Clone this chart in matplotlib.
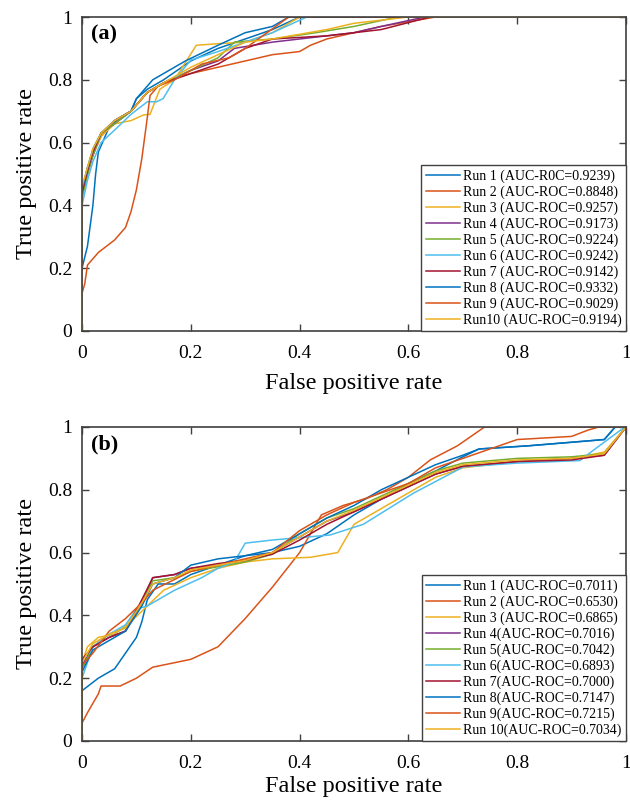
import matplotlib
matplotlib.use('Agg')
import matplotlib.pyplot as plt

plt.rcParams['font.family'] = ['Liberation Serif', 'DejaVu Serif']

# MATLAB default line colours, runs 8-10 repeat runs 1-3
colors = ['#0072BD', '#D95319', '#EDB120', '#7E2F8E', '#77AC30',
          '#4DBEEE', '#A2142F', '#0072BD', '#D95319', '#EDB120']

# ---- panel (a) ROC curves ----
a_labels = ['Run 1 (AUC-R0C=0.9239)', 'Run 2 (AUC-ROC=0.8848)', 'Run 3 (AUC-ROC=0.9257)',
            'Run 4 (AUC-ROC=0.9173)', 'Run 5 (AUC-ROC=0.9224)', 'Run 6 (AUC-ROC=0.9242)',
            'Run 7 (AUC-ROC=0.9142)', 'Run 8 (AUC-ROC=0.9332)', 'Run 9 (AUC-ROC=0.9029)',
            'Run10 (AUC-ROC=0.9194)']
a_fpr = [
    [0, 0, 0.01, 0.02, 0.025, 0.03, 0.05, 0.07, 0.09, 0.1, 0.12, 0.15, 0.2, 0.25, 0.3, 0.35, 0.4, 1],
    [0, 0, 0.01, 0.035, 0.06, 0.09, 0.12, 0.16, 0.2, 0.25, 0.3, 0.35, 0.4, 0.42, 0.45, 0.5, 0.55, 0.65, 1],
    [0, 0, 0.01, 0.02, 0.035, 0.06, 0.09, 0.113, 0.125, 0.143, 0.17, 0.21, 0.25, 0.3, 0.35, 0.4, 1],
    [0, 0, 0.01, 0.02, 0.035, 0.06, 0.09, 0.12, 0.15, 0.2, 0.25, 0.28, 0.35, 0.45, 0.5, 0.55, 0.63, 1],
    [0, 0, 0.01, 0.02, 0.035, 0.06, 0.09, 0.12, 0.15, 0.2, 0.25, 0.28, 0.35, 0.43, 0.5, 0.58, 1],
    [0, 0, 0.01, 0.02, 0.035, 0.06, 0.09, 0.12, 0.137, 0.149, 0.17, 0.2, 0.25, 0.3, 0.35, 0.413, 1],
    [0, 0, 0.01, 0.02, 0.035, 0.06, 0.09, 0.12, 0.15, 0.2, 0.25, 0.3, 0.35, 0.45, 0.5, 0.55, 0.64, 1],
    [0, 0, 0.01, 0.02, 0.035, 0.06, 0.09, 0.1, 0.13, 0.19, 0.25, 0.3, 0.35, 0.38, 1],
    [0, 0, 0.005, 0.01, 0.03, 0.06, 0.08, 0.09, 0.1, 0.11, 0.12, 0.125, 0.14, 0.17, 0.22, 0.27, 0.3, 0.34, 0.38, 1],
    [0, 0, 0.01, 0.02, 0.035, 0.06, 0.09, 0.12, 0.15, 0.2, 0.25, 0.3, 0.35, 0.45, 0.5, 0.6, 1],
]
a_tpr = [
    [0, 0.20, 0.27, 0.40, 0.50, 0.57, 0.65, 0.68, 0.70, 0.74, 0.77, 0.80, 0.86, 0.90, 0.93, 0.96, 1, 1],
    [0, 0.45, 0.52, 0.62, 0.67, 0.70, 0.76, 0.80, 0.82, 0.84, 0.86, 0.88, 0.89, 0.91, 0.93, 0.95, 0.97, 1, 1],
    [0, 0.45, 0.50, 0.56, 0.62, 0.66, 0.67, 0.688, 0.69, 0.77, 0.80, 0.91, 0.915, 0.92, 0.95, 1, 1],
    [0, 0.43, 0.50, 0.56, 0.63, 0.66, 0.70, 0.76, 0.79, 0.83, 0.86, 0.90, 0.92, 0.94, 0.95, 0.97, 1, 1],
    [0, 0.42, 0.50, 0.56, 0.63, 0.66, 0.70, 0.76, 0.79, 0.83, 0.87, 0.92, 0.93, 0.95, 0.97, 1, 1],
    [0, 0.40, 0.48, 0.54, 0.60, 0.64, 0.69, 0.73, 0.73, 0.74, 0.80, 0.863, 0.89, 0.92, 0.95, 1, 1],
    [0, 0.44, 0.51, 0.57, 0.63, 0.67, 0.70, 0.76, 0.79, 0.82, 0.85, 0.90, 0.93, 0.94, 0.95, 0.96, 1, 1],
    [0, 0.45, 0.52, 0.58, 0.63, 0.67, 0.70, 0.74, 0.80, 0.86, 0.91, 0.95, 0.97, 1, 1],
    [0, 0.12, 0.15, 0.21, 0.25, 0.29, 0.33, 0.38, 0.45, 0.55, 0.68, 0.75, 0.78, 0.80, 0.85, 0.87, 0.90, 0.95, 1, 1],
    [0, 0.46, 0.52, 0.58, 0.63, 0.67, 0.70, 0.76, 0.79, 0.84, 0.88, 0.92, 0.93, 0.96, 0.98, 1, 1],
]

# ---- panel (b) ROC curves ----
b_labels = ['Run 1 (AUC-ROC=0.7011)', 'Run 2 (AUC-ROC=0.6530)', 'Run 3 (AUC-ROC=0.6865)',
            'Run 4(AUC-ROC=0.7016)', 'Run 5(AUC-ROC=0.7042)', 'Run 6(AUC-ROC=0.6893)',
            'Run 7(AUC-ROC=0.7000)', 'Run 8(AUC-ROC=0.7147)', 'Run 9(AUC-ROC=0.7215)',
            'Run 10(AUC-ROC=0.7034)']
b_fpr = [
    [0, 0, 0.03, 0.06, 0.08, 0.1, 0.11, 0.12, 0.14, 0.17, 0.2, 0.25, 0.3, 0.35, 0.4, 0.45, 0.5, 0.55, 0.6, 0.65, 0.7, 0.73, 0.82, 0.96, 0.98, 1],
    [0, 0, 0.01, 0.03, 0.035, 0.07, 0.1, 0.13, 0.2, 0.25, 0.3, 0.35, 0.4, 0.44, 0.48, 0.52, 0.56, 0.6, 0.64, 0.69, 0.74, 1],
    [0, 0, 0.01, 0.03, 0.06, 0.09, 0.12, 0.15, 0.2, 0.25, 0.3, 0.35, 0.42, 0.47, 0.5, 0.55, 0.6, 0.65, 0.7, 0.8, 0.9, 0.96, 1],
    [0, 0, 0.02, 0.05, 0.08, 0.11, 0.13, 0.17, 0.2, 0.25, 0.3, 0.35, 0.4, 0.45, 0.5, 0.55, 0.6, 0.65, 0.7, 0.8, 0.9, 0.96, 1],
    [0, 0, 0.02, 0.05, 0.08, 0.11, 0.13, 0.17, 0.2, 0.25, 0.3, 0.35, 0.4, 0.45, 0.5, 0.55, 0.6, 0.65, 0.7, 0.8, 0.9, 0.96, 1],
    [0, 0, 0.02, 0.05, 0.08, 0.1, 0.12, 0.14, 0.17, 0.22, 0.25, 0.28, 0.3, 0.35, 0.456, 0.517, 0.609, 0.701, 0.8, 0.915, 0.94, 0.99, 1],
    [0, 0, 0.02, 0.05, 0.08, 0.11, 0.13, 0.17, 0.2, 0.25, 0.3, 0.35, 0.4, 0.45, 0.5, 0.55, 0.6, 0.65, 0.7, 0.8, 0.9, 0.96, 1],
    [0, 0, 0.02, 0.05, 0.08, 0.11, 0.13, 0.17, 0.2, 0.25, 0.3, 0.35, 0.4, 0.45, 0.5, 0.55, 0.6, 0.65, 0.7, 0.73, 0.82, 0.96, 0.98, 1],
    [0, 0, 0.02, 0.05, 0.08, 0.11, 0.13, 0.2, 0.25, 0.3, 0.35, 0.4, 0.45, 0.5, 0.55, 0.6, 0.65, 0.7, 0.8, 0.9, 0.93, 0.95, 1],
    [0, 0, 0.02, 0.05, 0.08, 0.11, 0.13, 0.17, 0.2, 0.25, 0.3, 0.35, 0.4, 0.45, 0.5, 0.55, 0.6, 0.65, 0.7, 0.8, 0.9, 0.96, 1],
]
b_tpr = [
    [0, 0.16, 0.20, 0.23, 0.28, 0.33, 0.38, 0.45, 0.50, 0.50, 0.53, 0.56, 0.59, 0.60, 0.62, 0.66, 0.72, 0.77, 0.82, 0.86, 0.905, 0.93, 0.94, 0.96, 1, 1],
    [0, 0.057, 0.09, 0.15, 0.175, 0.175, 0.20, 0.235, 0.26, 0.30, 0.39, 0.49, 0.60, 0.72, 0.75, 0.77, 0.80, 0.84, 0.895, 0.94, 1, 1],
    [0, 0.25, 0.30, 0.33, 0.34, 0.38, 0.43, 0.48, 0.52, 0.55, 0.57, 0.58, 0.585, 0.60, 0.69, 0.74, 0.79, 0.84, 0.87, 0.89, 0.90, 0.92, 1],
    [0, 0.24, 0.30, 0.33, 0.35, 0.44, 0.52, 0.53, 0.55, 0.56, 0.575, 0.60, 0.65, 0.70, 0.73, 0.77, 0.81, 0.85, 0.875, 0.89, 0.90, 0.91, 1],
    [0, 0.23, 0.30, 0.34, 0.36, 0.44, 0.51, 0.52, 0.54, 0.555, 0.57, 0.595, 0.66, 0.71, 0.74, 0.78, 0.82, 0.86, 0.885, 0.90, 0.905, 0.915, 1],
    [0, 0.20, 0.30, 0.34, 0.37, 0.42, 0.43, 0.45, 0.48, 0.52, 0.55, 0.57, 0.63, 0.64, 0.656, 0.69, 0.789, 0.873, 0.885, 0.893, 0.926, 0.99, 1],
    [0, 0.26, 0.30, 0.33, 0.35, 0.45, 0.52, 0.53, 0.55, 0.565, 0.575, 0.595, 0.64, 0.69, 0.73, 0.77, 0.81, 0.85, 0.875, 0.89, 0.895, 0.91, 1],
    [0, 0.22, 0.29, 0.32, 0.35, 0.43, 0.50, 0.52, 0.56, 0.58, 0.59, 0.61, 0.66, 0.71, 0.75, 0.80, 0.84, 0.88, 0.91, 0.93, 0.94, 0.96, 1, 1],
    [0, 0.24, 0.28, 0.35, 0.39, 0.44, 0.48, 0.54, 0.56, 0.58, 0.60, 0.67, 0.72, 0.76, 0.79, 0.82, 0.87, 0.90, 0.96, 0.97, 0.99, 1, 1],
    [0, 0.25, 0.31, 0.34, 0.36, 0.44, 0.50, 0.52, 0.545, 0.56, 0.575, 0.60, 0.65, 0.70, 0.735, 0.775, 0.815, 0.855, 0.88, 0.895, 0.90, 0.915, 1],
]

fig = plt.figure(figsize=(6.3, 8.02), dpi=100)
ax_a = fig.add_axes([0.1302, 0.5873, 0.8635, 0.3915])
ax_b = fig.add_axes([0.1302, 0.0761, 0.8635, 0.3915])

# (axes, fpr, tpr, legend labels, panel tag, xlabel pad)
panels = [(ax_a, a_fpr, a_tpr, a_labels, '(a)', 8),
          (ax_b, b_fpr, b_tpr, b_labels, '(b)', 3)]

ticks = [0, 0.2, 0.4, 0.6, 0.8, 1]
tick_txt = ['0', '0.2', '0.4', '0.6', '0.8', '1']

for ax, fprs, tprs, labels, tag, xpad in panels:
    for fpr, tpr, c, lab in zip(fprs, tprs, colors, labels):
        ax.plot(fpr, tpr, color=c, linewidth=1.1, label=lab)
    ax.set_xlim(0, 1)
    ax.set_ylim(0, 1)
    ax.set_xticks(ticks)
    ax.set_yticks(ticks)
    ax.set_xticklabels(tick_txt)
    ax.set_yticklabels(tick_txt)
    ax.tick_params(axis='both', which='both', direction='in', top=True, right=True,
                   length=5, width=1, color='#404040', labelsize=14)
    ax.tick_params(axis='x', pad=10)
    ax.tick_params(axis='y', pad=7)
    for sp in ax.spines.values():
        sp.set_color('#404040')
        sp.set_linewidth(1.2)
    ax.set_xlabel('False positive rate', fontsize=17.5, labelpad=xpad)
    ax.set_ylabel('True positive rate', fontsize=17.5, labelpad=8)
    ax.text(0.017, 0.975, tag, transform=ax.transAxes, fontsize=16,
            fontweight='bold', va='top', ha='left')
    leg = ax.legend(loc='lower right', fontsize=10, borderaxespad=0, fancybox=False,
                    framealpha=1, edgecolor='#404040', handlelength=2.45,
                    handletextpad=0.25, labelspacing=0.18, borderpad=0.3)
    leg.get_frame().set_linewidth(1.0)

fig.savefig('out.png', dpi=100)
